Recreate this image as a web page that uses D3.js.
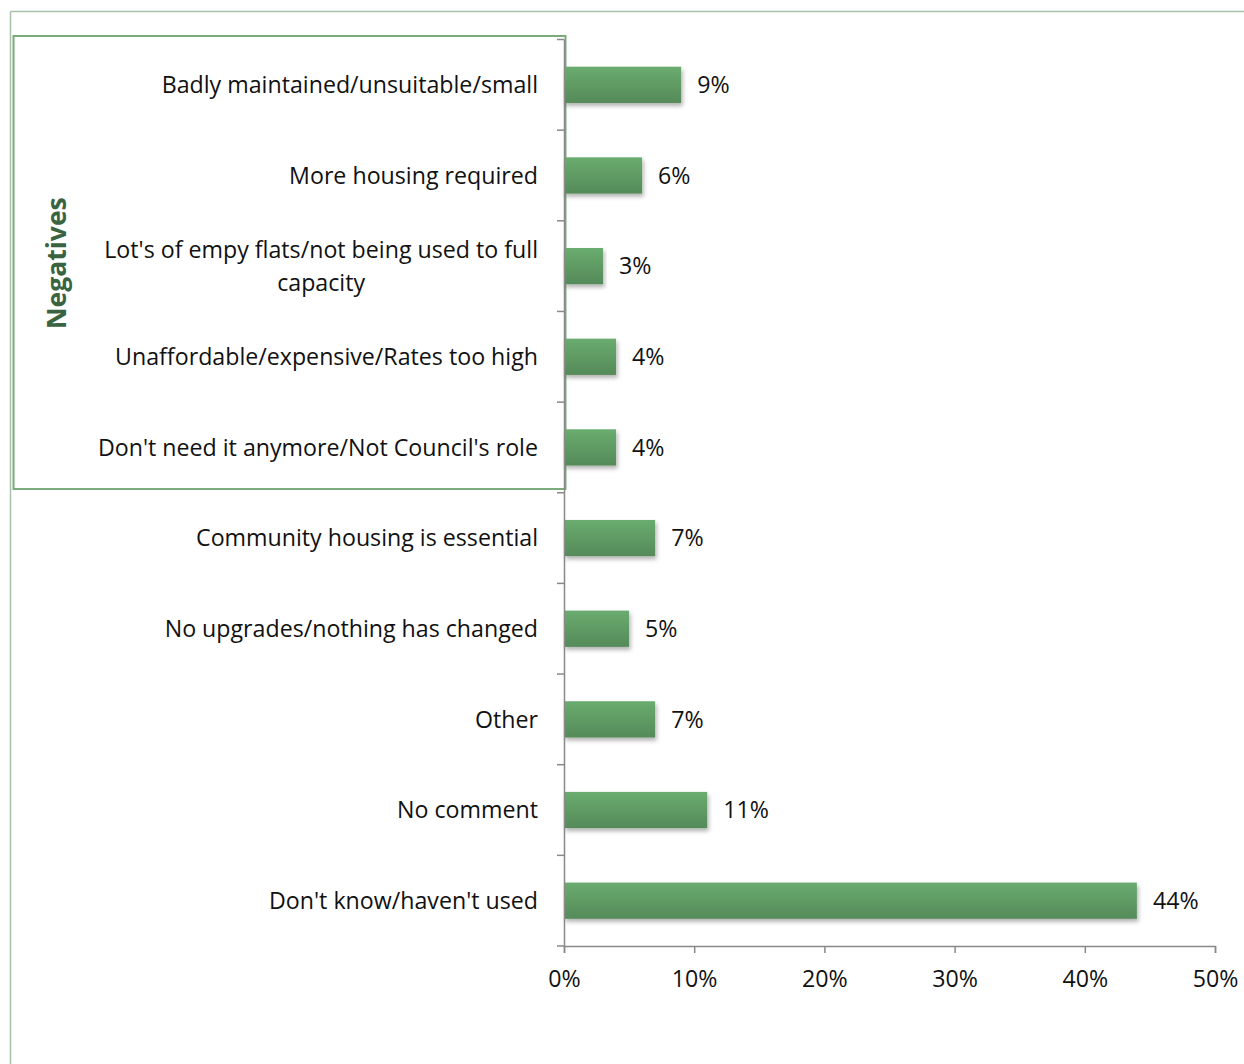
<!DOCTYPE html>
<html>
<head>
<meta charset="utf-8">
<script src="https://cdn.jsdelivr.net/npm/d3@7"></script>
<style>
  html, body { margin: 0; padding: 0; background: #fff; }
  svg { display: block; }
  text { font-family: "Open Sans", "Noto Sans", sans-serif; fill: #111; }
</style>
</head>
<body>
<svg id="chart" width="1244" height="1064"></svg>
<script>
// Survey responses about community housing (share of respondents)
const categories = [
  "Badly maintained/unsuitable/small",
  "More housing required",
  "Lot's of empy flats/not being used to full capacity",
  "Unaffordable/expensive/Rates too high",
  "Don't need it anymore/Not Council's role",
  "Community housing is essential",
  "No upgrades/nothing has changed",
  "Other",
  "No comment",
  "Don't know/haven't used"
];
const values = [9, 6, 3, 4, 4, 7, 5, 7, 11, 44];
const xTicks = [0, 10, 20, 30, 40, 50];
const negativeGroup = categories.slice(0, 5);

const svg = d3.select("#chart");
const fontSize = "23.2px";

const plot = { left: 564, right: 1215, top: 39.5, bottom: 946 };

const x = d3.scaleLinear().domain([0, 50]).range([plot.left, plot.right]);
const y = d3.scaleBand().domain(categories).range([plot.top, plot.bottom]).paddingInner(0.6).paddingOuter(0.3);
const yTickScale = d3.scaleBand().domain(categories).range([plot.top, plot.bottom]);

// gradient + shadow for bars
const defs = svg.append("defs");
const grad = defs.append("linearGradient").attr("id", "barGrad").attr("x1", 0).attr("y1", 0).attr("x2", 0).attr("y2", 1);
grad.append("stop").attr("offset", "0%").attr("stop-color", "#6aac6f");
grad.append("stop").attr("offset", "100%").attr("stop-color", "#558a59");
const shadow = defs.append("filter").attr("id", "barShadow").attr("x", "-5%").attr("y", "-20%").attr("width", "115%").attr("height", "160%");
shadow.append("feDropShadow").attr("dx", 1.5).attr("dy", 3).attr("stdDeviation", 2).attr("flood-color", "#000").attr("flood-opacity", 0.3);

// outer chart frame (top and left edges visible)
svg.append("line").attr("x1", 10.5).attr("x2", 1244).attr("y1", 11.5).attr("y2", 11.5)
  .attr("stroke", "#a9c0a9").attr("stroke-width", 1.5);
svg.append("line").attr("x1", 10.5).attr("x2", 10.5).attr("y1", 11.5).attr("y2", 1064)
  .attr("stroke", "#a9c0a9").attr("stroke-width", 1.5);

// box around the negative comments
const boxTop = 36, boxBottom = 489;
svg.append("rect").attr("x", 13.5).attr("y", boxTop).attr("width", 552).attr("height", boxBottom - boxTop)
  .attr("fill", "none").attr("stroke", "#79ab7b").attr("stroke-width", 2);

const groupMid = (y(negativeGroup[0]) + y(negativeGroup[4]) + y.bandwidth()) / 2;
svg.append("text")
  .attr("transform", `translate(66, ${groupMid - 3}) rotate(-90)`)
  .attr("text-anchor", "middle")
  .style("font-size", "26.5px").style("font-weight", "bold").style("fill", "#3a6340")
  .text("Negatives");

// bars
svg.append("g").selectAll("rect").data(categories).join("rect")
  .attr("x", x(0))
  .attr("y", d => y(d))
  .attr("width", (d, i) => x(values[i]) - x(0))
  .attr("height", y.bandwidth())
  .attr("fill", "url(#barGrad)")
  .attr("filter", "url(#barShadow)");

// value labels
svg.append("g").selectAll("text").data(categories).join("text")
  .attr("x", (d, i) => x(values[i]) + 16)
  .attr("y", d => y(d) + y.bandwidth() / 2)
  .attr("dy", "0.36em")
  .style("font-size", fontSize)
  .text((d, i) => values[i] + "%");

// category axis
const yAxis = svg.append("g").attr("transform", `translate(${plot.left},0)`);
yAxis.append("line").attr("x1", 0.5).attr("x2", 0.5).attr("y1", plot.top).attr("y2", plot.bottom)
  .attr("stroke", "#898989").attr("stroke-width", 1.5);
const tickYs = categories.map(c => yTickScale(c)).concat([plot.bottom]);
yAxis.selectAll("line.tick").data(tickYs).join("line").attr("class", "tick")
  .attr("x1", -7).attr("x2", 0).attr("y1", d => d).attr("y2", d => d)
  .attr("stroke", "#898989").attr("stroke-width", 1.5);

// category labels, wrapped to fit
const labelRight = 538, maxWidth = 480;
const labels = svg.append("g").selectAll("text").data(categories).join("text")
  .attr("text-anchor", "end")
  .style("font-size", fontSize);
labels.each(function(d) {
  const t = d3.select(this);
  const cy = y(d) + y.bandwidth() / 2;
  const words = d.split(" ");
  const lines = [];
  let line = [];
  const probe = t.append("tspan");
  words.forEach(w => {
    line.push(w);
    probe.text(line.join(" "));
    if (probe.node().getComputedTextLength() > maxWidth && line.length > 1) {
      line.pop();
      lines.push(line.join(" "));
      line = [w];
    }
  });
  lines.push(line.join(" "));
  probe.remove();
  const lh = 33;
  if (lines.length === 1) {
    t.append("tspan").attr("x", labelRight).attr("y", cy).attr("dy", "0.36em").text(lines[0]);
  } else {
    t.attr("text-anchor", null);
    const widths = [];
    lines.forEach(l => {
      const ts = t.append("tspan").text(l);
      widths.push(ts.node().getComputedTextLength());
      ts.remove();
    });
    const blockW = Math.max(...widths);
    const centre = labelRight - blockW / 2;
    lines.forEach((l, i) => {
      t.append("tspan").attr("x", centre).attr("text-anchor", "middle")
        .attr("y", cy + (i - (lines.length - 1) / 2) * lh).attr("dy", "0.36em").text(l);
    });
  }
});

// value axis
const xAxis = d3.axisBottom(x).tickValues(xTicks).tickFormat(d => d + "%").tickSize(7).tickPadding(18);
const gx = svg.append("g").attr("transform", `translate(0,${plot.bottom})`).call(xAxis);
gx.select(".domain").attr("stroke", "#898989").attr("stroke-width", 1.5);
gx.selectAll(".tick line").attr("stroke", "#898989").attr("stroke-width", 1.5);
gx.selectAll(".tick text").style("font-size", fontSize).style("font-family", "'Open Sans', sans-serif").attr("fill", "#111");
</script>
</body>
</html>
